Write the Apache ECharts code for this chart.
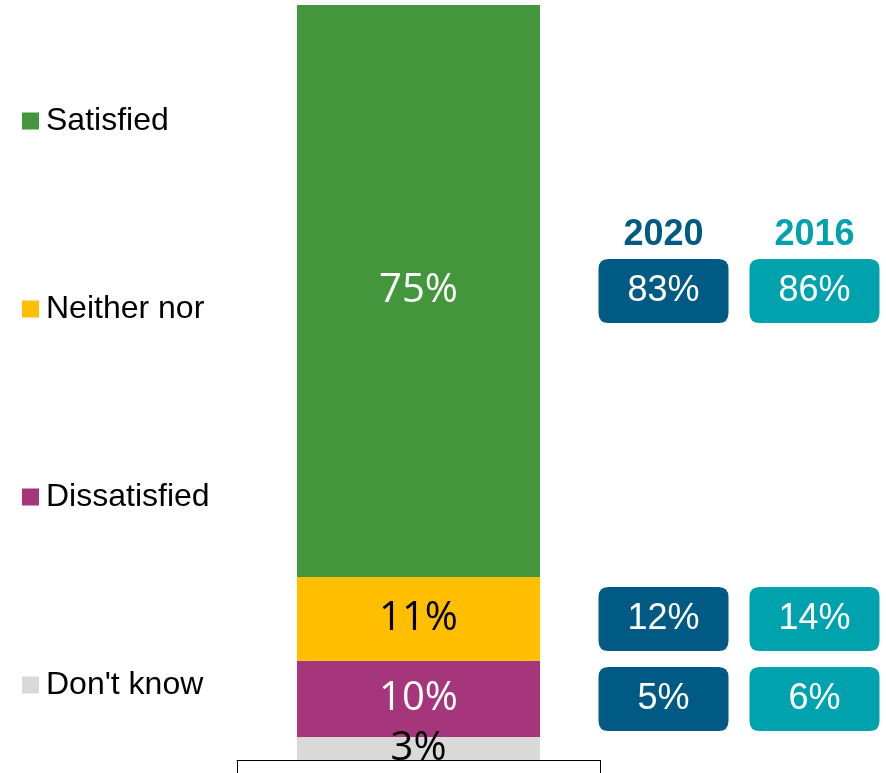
<!DOCTYPE html>
<html>
<head>
<meta charset="utf-8">
<script src="https://cdn.jsdelivr.net/npm/echarts@6/dist/echarts.min.js"></script>
<style>
  html, body { margin: 0; padding: 0; background: #fff; }
  #chart { width: 886px; height: 773px; }
</style>
</head>
<body>
<div id="chart"></div>
<script>
// Datos de la barra (de abajo hacia arriba)
const categorias = ["Don't know", 'Dissatisfied', 'Neither nor', 'Satisfied'];
const valores2023 = [3, 10, 11, 75];
const coloresBarra = ['#D9D9D9', '#A5367B', '#FFBF00', '#43963C'];
const coloresTexto = ['#000', '#fff', '#000', '#fff'];

// Comparacion con años anteriores (Satisfied, Neither nor, Dissatisfied)
const anios = ['2020', '2016'];
const comparaIndices = [3, 2, 1];
const valores2020 = [83, 12, 5];
const valores2016 = [86, 14, 6];
const coloresAnio = ['#005A84', '#00A2AE'];

const total = valores2023.reduce((a, b) => a + b, 0);

// Punto medio de cada segmento apilado
const medios = [];
let acumulado = 0;
valores2023.forEach(v => {
    medios.push(acumulado + v / 2);
    acumulado += v;
});

// Rectangulo con esquinas redondeadas para las cajas
const cajaPath = 'path://M10,0H120Q130,0 130,10V54Q130,64 120,64H10Q0,64 0,54V10Q0,0 10,0Z';

const seriesBarra = categorias.map((nombre, i) => ({
    name: nombre,
    type: 'bar',
    stack: 'total',
    barWidth: 243,
    xAxisIndex: 0,
    yAxisIndex: 0,
    itemStyle: { color: coloresBarra[i] },
    label: {
        show: true,
        position: 'inside',
        formatter: '{c}%',
        color: coloresTexto[i],
        fontFamily: 'Open Sans',
        fontSize: 40
    },
    data: [valores2023[i]]
}));

const seriesAnio = [valores2020, valores2016].map((vals, a) => ({
    name: anios[a],
    type: 'scatter',
    xAxisIndex: 1,
    yAxisIndex: 1,
    symbol: cajaPath,
    symbolKeepAspect: false,
    symbolSize: [130, 64],
    itemStyle: { color: coloresAnio[a], opacity: 1 },
    label: {
        show: true,
        position: 'inside',
        formatter: p => p.value[2] + '%',
        color: '#fff',
        fontFamily: 'Liberation Sans, Arial',
        fontSize: 36
    },
    data: vals.map((v, k) => [a, medios[comparaIndices[k]], v])
}));

const chart = echarts.init(document.getElementById('chart'));
chart.setOption({
    animation: false,
    legend: {
        orient: 'vertical',
        left: 17,
        top: 100,
        itemWidth: 17,
        itemHeight: 17,
        itemGap: 156,
        icon: 'rect',
        selectedMode: false,
        data: categorias.slice().reverse(),
        textStyle: {
            fontFamily: 'Liberation Sans, Arial',
            fontSize: 32,
            lineHeight: 32,
            color: '#000',
            padding: [0, 0, 0, 2]
        }
    },
    grid: [
        { left: 237, width: 363, top: 5, bottom: 13, outerBoundsMode: 'none' },
        { left: 588, width: 302, top: 5, bottom: 13, outerBoundsMode: 'none' }
    ],
    xAxis: [
        {
            type: 'category',
            gridIndex: 0,
            data: [''],
            axisLine: { lineStyle: { color: '#000', width: 1 } },
            axisTick: { show: true, length: 14, lineStyle: { color: '#000' } },
            axisLabel: { show: false }
        },
        {
            type: 'category',
            gridIndex: 1,
            position: 'top',
            offset: -248,
            data: anios,
            axisLine: { show: false },
            axisTick: { show: false },
            axisLabel: {
                margin: 0,
                fontFamily: 'Liberation Sans, Arial',
                fontSize: 36,
                fontWeight: 'bold',
                color: (v, i) => coloresAnio[i]
            }
        }
    ],
    yAxis: [
        { type: 'value', gridIndex: 0, min: 0, max: total, show: false },
        { type: 'value', gridIndex: 1, min: 0, max: total, show: false }
    ],
    series: seriesBarra.concat(seriesAnio)
});
</script>
</body>
</html>
